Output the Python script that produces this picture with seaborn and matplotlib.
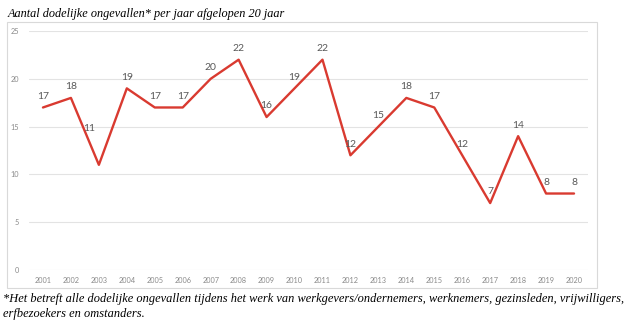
import matplotlib
matplotlib.use("Agg")
import matplotlib.pyplot as plt
from matplotlib.patches import Rectangle
import seaborn as sns
import pandas as pd

years = list(range(2001, 2021))
deaths = [17, 18, 11, 19, 17, 17, 20, 22, 16, 19, 22, 12, 15, 18, 17, 12, 7, 14, 8, 8]
yticks = [0, 5, 10, 15, 20, 25]
title = "Aantal dodelijke ongevallen* per jaar afgelopen 20 jaar"
footnote_1 = ("*Het betreft alle dodelijke ongevallen tijdens het werk van werkgevers/ondernemers, "
              "werknemers, gezinsleden, vrijwilligers,")
footnote_2 = "erfbezoekers en omstanders."

df = pd.DataFrame({"jaar": years, "aantal": deaths})

sns.set_theme(style="white")
plt.rcParams["font.family"] = ["Lato", "DejaVu Sans"]

fig = plt.figure(figsize=(6.25, 3.23), dpi=100)
fig.patch.set_facecolor("white")

# outer chart frame
fig.add_artist(Rectangle((7 / 625, 1 - 288 / 323), 590 / 625, 266 / 323,
                         transform=fig.transFigure, fill=False,
                         edgecolor="#d9d9d9", linewidth=0.8))

ax = fig.add_axes([29 / 625, 1 - 270 / 323, 559 / 625, 239 / 323])
ax.set_facecolor("none")
for y in yticks:
    ax.axhline(y, color="#e3e3e3", linewidth=0.8, zorder=0)

sns.lineplot(data=df, x="jaar", y="aantal", ax=ax, color="#d93a30",
             linewidth=1.7, zorder=3)

ax.set_xlim(2000.5, 2020.5)
ax.set_ylim(0, 25)
ax.set_xticks(years)
ax.set_xticklabels([str(y) for y in years])
ax.set_yticks(yticks)
ax.tick_params(axis="both", length=0, labelsize=5.3, colors="#8a8a8a")
ax.tick_params(axis="x", pad=5)
ax.tick_params(axis="y", pad=7)
ax.set_xlabel("")
ax.set_ylabel("")
for s in ax.spines.values():
    s.set_visible(False)

for x, v in zip(years, deaths):
    if x == 2003:
        ax.annotate(str(v), (x, v), xytext=(-7, 26), textcoords="offset points",
                    ha="center", va="center", fontsize=7.5, color="#595959")
    else:
        ax.annotate(str(v), (x, v), xytext=(0, 8), textcoords="offset points",
                    ha="center", va="center", fontsize=7.5, color="#595959")

fig.text(8 / 625, 1 - 17 / 323, title, fontsize=8.8, style="italic",
         family="Liberation Serif", ha="left", va="baseline", color="black")
fig.text(3 / 625, 1 - 302 / 323, footnote_1, fontsize=8.9, style="italic",
         family="Liberation Serif", ha="left", va="baseline", color="black")
fig.text(3 / 625, 1 - 317 / 323, footnote_2, fontsize=8.9, style="italic",
         family="Liberation Serif", ha="left", va="baseline", color="black")

fig.savefig("out.png", dpi=100, facecolor="white")
